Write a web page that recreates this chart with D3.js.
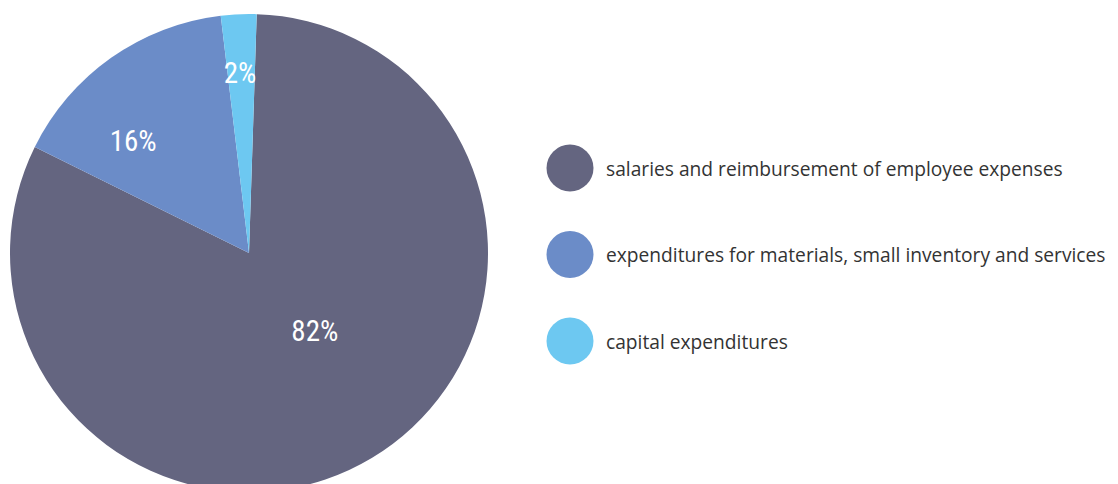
<!DOCTYPE html>
<html><head><meta charset="utf-8">
<script src="https://cdn.jsdelivr.net/npm/d3@7"></script>
<style>html,body{margin:0;padding:0;background:#fff;}</style>
</head><body>
<svg id="chart" width="1118" height="484"></svg>
<script>
const categories = ["salaries and reimbursement of employee expenses","expenditures for materials, small inventory and services","capital expenditures"];
const values = [81.8, 15.8, 2.4];
const labels = ["82%","16%","2%"];
const colors = ["#646580","#6b8cc8","#6dc8f1"];

const svg = d3.select("#chart");
const cx = 249, cy = 253, r = 239;
const deg = Math.PI/180;
const start = 1.85*deg;
const pie = d3.pie().sort(null).startAngle(start).endAngle(2*Math.PI + start);
const arcs = pie(values);
const arc = d3.arc().innerRadius(0).outerRadius(r);
const g = svg.append("g").attr("transform",`translate(${cx},${cy})`);
g.selectAll("path").data(arcs).join("path").attr("d",arc).attr("fill",(d,i)=>colors[i]);

// label layout (radius, angular shift from slice mid)
const labelRad = [102, 161, 180];
const labelShift = [-9.3, -10.8, -0.4];
g.selectAll("text").data(arcs).join("text")
  .attr("transform",(d,i)=>{
    const a = (d.startAngle+d.endAngle)/2 + labelShift[i]*deg;
    return `translate(${labelRad[i]*Math.sin(a)},${-labelRad[i]*Math.cos(a)})`;})
  .attr("text-anchor","middle").attr("dominant-baseline","central")
  .attr("fill","#fff").style("font-family","'Roboto Condensed','Liberation Sans Narrow','DejaVu Sans Condensed',sans-serif")
  .style("font-size","29px").text((d,i)=>labels[i]);

const legY = d3.scalePoint().domain(categories).range([168,341]);
const lg = svg.append("g");
lg.selectAll("circle").data(categories).join("circle")
  .attr("cx",570).attr("cy",d=>legY(d)).attr("r",23.5).attr("fill",(d,i)=>colors[i]);
lg.selectAll("text").data(categories).join("text")
  .attr("x",606).attr("y",d=>legY(d)).attr("dominant-baseline","central")
  .attr("fill","#333").style("font-family","'Open Sans',sans-serif").style("font-size","19.2px").text(d=>d);
</script>
</body></html>
